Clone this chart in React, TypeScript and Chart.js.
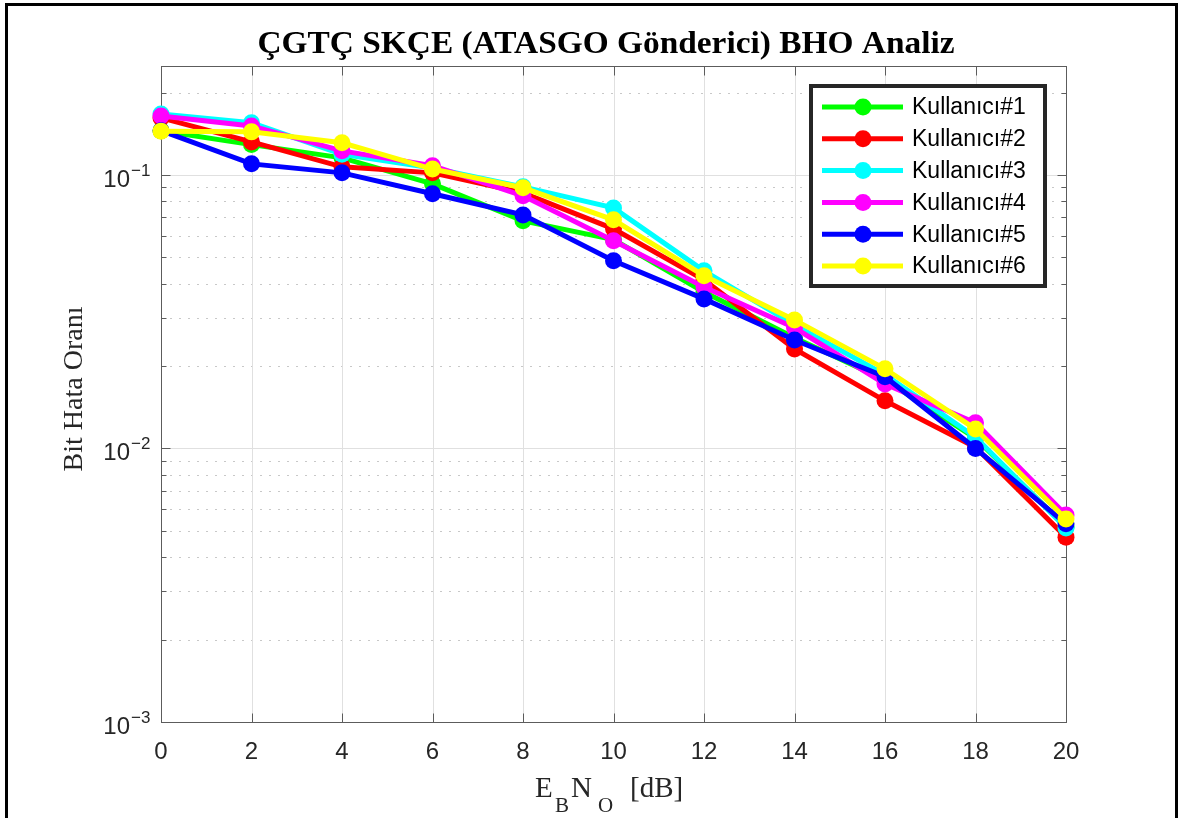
import React, { useEffect, useRef } from "react";
import { Chart, registerables } from "chart.js";

Chart.register(...registerables);

const ebno = [0, 2, 4, 6, 8, 10, 12, 14, 16, 18, 20];
const kullanici1 = [0.145, 0.129, 0.1154, 0.0927, 0.0679, 0.058, 0.0373, 0.0254, 0.0178, 0.0109, 0.00516];
const kullanici2 = [0.1615, 0.132, 0.107, 0.1017, 0.0859, 0.0635, 0.0413, 0.0231, 0.01493, 0.0101, 0.00474];
const kullanici3 = [0.167, 0.155, 0.119, 0.106, 0.0904, 0.0757, 0.0446, 0.0283, 0.0186, 0.011, 0.00512];
const kullanici4 = [0.164, 0.151, 0.1224, 0.108, 0.0838, 0.0574, 0.0389, 0.0276, 0.0172, 0.0124, 0.00571];
const kullanici5 = [0.145, 0.1097, 0.1017, 0.0853, 0.0714, 0.0485, 0.0352, 0.0249, 0.01828, 0.01, 0.0053];
const kullanici6 = [0.1445, 0.1436, 0.131, 0.105, 0.0897, 0.0685, 0.0428, 0.0295, 0.01955, 0.01177, 0.00552];

const seriesNames = ["Kullanıcı#1", "Kullanıcı#2", "Kullanıcı#3", "Kullanıcı#4", "Kullanıcı#5", "Kullanıcı#6"];
const seriesColors = ["#00ff00", "#ff0000", "#00ffff", "#ff00ff", "#0000ff", "#ffff00"];
const seriesValues = [kullanici1, kullanici2, kullanici3, kullanici4, kullanici5, kullanici6];

const xTicks = [0, 2, 4, 6, 8, 10, 12, 14, 16, 18, 20];
const yDecades = [-3, -2, -1];
const titleText = "ÇGTÇ SKÇE (ATASGO Gönderici) BHO Analiz";
const yAxisTitle = "Bit Hata Oranı";

const SANS = '"Liberation Sans", Arial, sans-serif';
const SERIF = '"Liberation Serif", "Times New Roman", serif';

const matlabPlugin = {
  id: "matlabStyle",
  beforeDraw(chart: any) {
    const ctx = chart.ctx;
    ctx.save();
    ctx.fillStyle = "#ffffff";
    ctx.fillRect(0, 0, chart.width, chart.height);
    ctx.strokeStyle = "#000000";
    ctx.lineWidth = 3;
    ctx.strokeRect(6.5, 4.5, 1170, 840);
    ctx.restore();
  },
  beforeDatasetsDraw(chart: any) {
    const ctx = chart.ctx;
    const a = chart.chartArea;
    const xs = chart.scales.x;
    const ys = chart.scales.y;
    ctx.save();
    ctx.lineWidth = 1;
    ctx.strokeStyle = "#c8c8c8";
    ctx.setLineDash([2, 7]);
    for (const d of yDecades) {
      for (let k = 2; k <= 9; k++) {
        const v = k * Math.pow(10, d);
        if (v > 0.25) continue;
        const py = Math.round(ys.getPixelForValue(v)) + 0.5;
        ctx.beginPath();
        ctx.moveTo(a.left, py);
        ctx.lineTo(a.right, py);
        ctx.stroke();
      }
    }
    ctx.setLineDash([]);
    ctx.strokeStyle = "#e0e0e0";
    for (const d of yDecades) {
      const v = Math.pow(10, d);
      const py = Math.round(ys.getPixelForValue(v)) + 0.5;
      ctx.beginPath();
      ctx.moveTo(a.left, py);
      ctx.lineTo(a.right, py);
      ctx.stroke();
    }
    for (const t of xTicks) {
      const px = Math.round(xs.getPixelForValue(t)) + 0.5;
      ctx.beginPath();
      ctx.moveTo(px, a.top);
      ctx.lineTo(px, a.bottom);
      ctx.stroke();
    }
    ctx.strokeStyle = "#5c5c5c";
    ctx.lineWidth = 1;
    const L = Math.round(a.left) + 0.5;
    const R = Math.round(a.right) + 0.5;
    const T = Math.round(a.top) + 0.5;
    const B = Math.round(a.bottom) + 0.5;
    ctx.strokeRect(L, T, R - L, B - T);
    ctx.beginPath();
    for (const t of xTicks) {
      const px = Math.round(xs.getPixelForValue(t)) + 0.5;
      ctx.moveTo(px, B);
      ctx.lineTo(px, B - 9);
      ctx.moveTo(px, T);
      ctx.lineTo(px, T + 9);
    }
    for (const d of yDecades) {
      for (let k = 1; k <= 9; k++) {
        const v = k * Math.pow(10, d);
        if (v > 0.25) continue;
        const len = k === 1 ? 9 : 5;
        const py = Math.round(ys.getPixelForValue(v)) + 0.5;
        ctx.moveTo(L, py);
        ctx.lineTo(L + len, py);
        ctx.moveTo(R, py);
        ctx.lineTo(R - len, py);
      }
    }
    ctx.stroke();
    ctx.restore();
  },
  afterDatasetsDraw(chart: any) {
    const ctx = chart.ctx;
    const xs = chart.scales.x;
    const ys = chart.scales.y;
    ctx.save();
    ctx.fillStyle = "#262626";
    ctx.font = `24px ${SANS}`;
    ctx.textAlign = "center";
    ctx.textBaseline = "alphabetic";
    for (const t of xTicks) {
      ctx.fillText(String(t), xs.getPixelForValue(t), 759);
    }
    for (const d of yDecades) {
      const py = ys.getPixelForValue(Math.pow(10, d));
      ctx.font = `24px ${SANS}`;
      ctx.textAlign = "right";
      ctx.fillText("10", 130, py + 12);
      ctx.font = `17px ${SANS}`;
      ctx.textAlign = "left";
      ctx.fillText("\u2212" + String(-d), 131, py + 1);
    }
    ctx.save();
    ctx.translate(82, 389);
    ctx.rotate(-Math.PI / 2);
    ctx.font = `28px ${SERIF}`;
    ctx.textAlign = "center";
    ctx.textBaseline = "alphabetic";
    ctx.fillStyle = "#262626";
    ctx.fillText(yAxisTitle, 0, 0);
    ctx.restore();
    ctx.fillStyle = "#262626";
    ctx.textAlign = "left";
    ctx.font = `29px ${SERIF}`;
    ctx.fillText("E", 535, 797);
    ctx.font = `21px ${SERIF}`;
    ctx.fillText("B", 555, 812);
    ctx.font = `29px ${SERIF}`;
    ctx.fillText("N", 571, 797);
    ctx.font = `21px ${SERIF}`;
    ctx.fillText("O", 598, 812);
    ctx.font = `29px ${SERIF}`;
    ctx.fillText("[dB]", 630, 797);
    ctx.font = `bold 32px ${SERIF}`;
    const w = ctx.measureText(titleText).width;
    const sx = 697 / w;
    ctx.save();
    ctx.translate(606, 53);
    ctx.scale(sx, 1);
    ctx.fillStyle = "#000000";
    ctx.textAlign = "center";
    ctx.fillText(titleText, 0, 0);
    ctx.restore();
    const lx = 811, ly = 86, lw = 234, lh = 200;
    ctx.fillStyle = "#ffffff";
    ctx.fillRect(lx, ly, lw, lh);
    ctx.strokeStyle = "#262626";
    ctx.lineWidth = 4;
    ctx.strokeRect(lx, ly, lw, lh);
    const rowStart = 107;
    const rowStep = 31.8;
    for (let i = 0; i < seriesNames.length; i++) {
      const ry = rowStart + i * rowStep;
      ctx.strokeStyle = seriesColors[i];
      ctx.lineWidth = 5;
      ctx.beginPath();
      ctx.moveTo(822, ry);
      ctx.lineTo(903, ry);
      ctx.stroke();
      ctx.fillStyle = seriesColors[i];
      ctx.beginPath();
      ctx.arc(863, ry, 8.5, 0, Math.PI * 2);
      ctx.fill();
      ctx.fillStyle = "#000000";
      ctx.font = `23px ${SANS}`;
      ctx.textAlign = "left";
      ctx.textBaseline = "middle";
      ctx.fillText(seriesNames[i], 912, ry + 1);
    }
    ctx.restore();
  },
};

export default function App() {
  const canvasRef = useRef<HTMLCanvasElement | null>(null);

  useEffect(() => {
    const canvas = canvasRef.current;
    if (!canvas) return;
    const datasets = seriesValues.map((vals, i) => ({
      label: seriesNames[i],
      data: ebno.map((x, j) => ({ x, y: vals[j] })),
      borderColor: seriesColors[i],
      backgroundColor: seriesColors[i],
      pointBackgroundColor: seriesColors[i],
      pointBorderColor: seriesColors[i],
      pointBorderWidth: 0,
      pointRadius: 8.5,
      borderWidth: 5,
      tension: 0,
      clip: false as any,
      order: seriesNames.length - 1 - i,
    }));
    const chart = new Chart(canvas, {
      type: "line",
      data: { datasets },
      options: {
        responsive: false,
        animation: false,
        devicePixelRatio: 1,
        layout: { padding: { left: 161, top: 66, right: 115, bottom: 96 } },
        plugins: {
          legend: { display: false },
          title: { display: false },
          tooltip: { enabled: false },
        },
        scales: {
          x: { type: "linear", min: 0, max: 20, display: false },
          y: { type: "logarithmic", min: 0.001, max: 0.25, display: false },
        },
      },
      plugins: [matlabPlugin],
    });
    return () => chart.destroy();
  }, []);

  return (
    <div style={{ position: "fixed", left: 0, top: 0, width: 1181, height: 818, background: "#fff" }}>
      <canvas ref={canvasRef} width={1181} height={818} style={{ width: 1181, height: 818, display: "block" }} />
    </div>
  );
}
